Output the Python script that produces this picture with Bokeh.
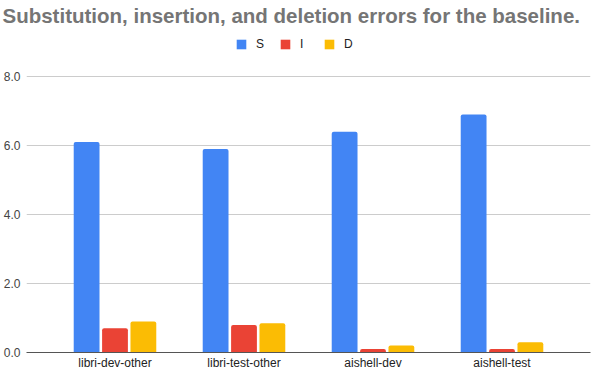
from bokeh.plotting import figure
from bokeh.models import (FactorRange, Range1d, Legend, LegendItem, ColumnDataSource,
                          FixedTicker, NumeralTickFormatter)
from bokeh.transform import dodge
from bokeh.embed import file_html
from bokeh.resources import INLINE

categories = ["libri-dev-other", "libri-test-other", "aishell-dev", "aishell-test"]
series_names = ["S", "I", "D"]
S = [6.1, 5.9, 6.4, 6.9]
I = [0.7, 0.8, 0.1, 0.1]
D = [0.9, 0.85, 0.2, 0.3]
y_ticks = [0, 2, 4, 6, 8]
title_text = "Substitution, insertion, and deletion errors for the baseline."
colors = ["#4285F4", "#EA4335", "#FBBC04"]

FONT = "Liberation Sans"

src = ColumnDataSource(dict(cat=categories, S=S, I=I, D=D))

# frame extends above the top gridline so the legend sits inside it
p = figure(x_range=FactorRange(*categories, range_padding=0.186, range_padding_units="absolute"),
           y_range=Range1d(0, 9.333), width=592, height=372,
           output_backend="svg", toolbar_location=None,
           min_border_left=26, min_border_right=2, min_border_top=30, min_border_bottom=20)

p.title.text = title_text
p.title.text_font = FONT
p.title.text_font_size = "20.5px"
p.title.text_font_style = "bold"
p.title.text_color = "#757575"
p.title.align = "left"
p.title.offset = -24
p.title.standoff = 3
p.title.vertical_align = "top"

offsets = [-0.22, 0.0, 0.22]
renderers = []
for name, off, col in zip(series_names, offsets, colors):
    r = p.vbar(x=dodge("cat", off, range=p.x_range), top=name, width=0.2, source=src,
               fill_color=col, line_color=None, border_radius=(2, 2, 0, 0))
    renderers.append(r)

legend = Legend(items=[LegendItem(label=n, renderers=[r]) for n, r in zip(series_names, renderers)],
                orientation="horizontal", location=(209, 301),
                glyph_width=12, glyph_height=12, label_standoff=9, spacing=15,
                padding=0, margin=0, border_line_alpha=0, background_fill_alpha=0,
                label_text_font=FONT, label_text_font_size="12px", label_text_color="#222222",
                label_height=12, label_width=8)
p.add_layout(legend, "center")

p.yaxis.ticker = FixedTicker(ticks=y_ticks)
p.yaxis.formatter = NumeralTickFormatter(format="0.0")
p.yaxis.axis_line_alpha = 0
p.yaxis.major_tick_line_alpha = 0
p.yaxis.minor_tick_line_alpha = 0
p.yaxis.major_tick_out = 0
p.yaxis.major_label_standoff = 6
p.yaxis.major_label_text_font = FONT
p.yaxis.major_label_text_font_size = "12px"
p.yaxis.major_label_text_color = "#444444"

p.xaxis.axis_line_color = "#555555"
p.xaxis.major_tick_line_alpha = 0
p.xaxis.minor_tick_line_alpha = 0
p.xaxis.major_tick_out = 0
p.xaxis.major_label_standoff = 3
p.xaxis.major_label_text_font = FONT
p.xaxis.major_label_text_font_size = "12px"
p.xaxis.major_label_text_color = "#222222"

p.xgrid.grid_line_color = None
p.ygrid.grid_line_color = "#cccccc"
p.outline_line_color = None

open("out.html", "w").write(file_html(p, INLINE))
